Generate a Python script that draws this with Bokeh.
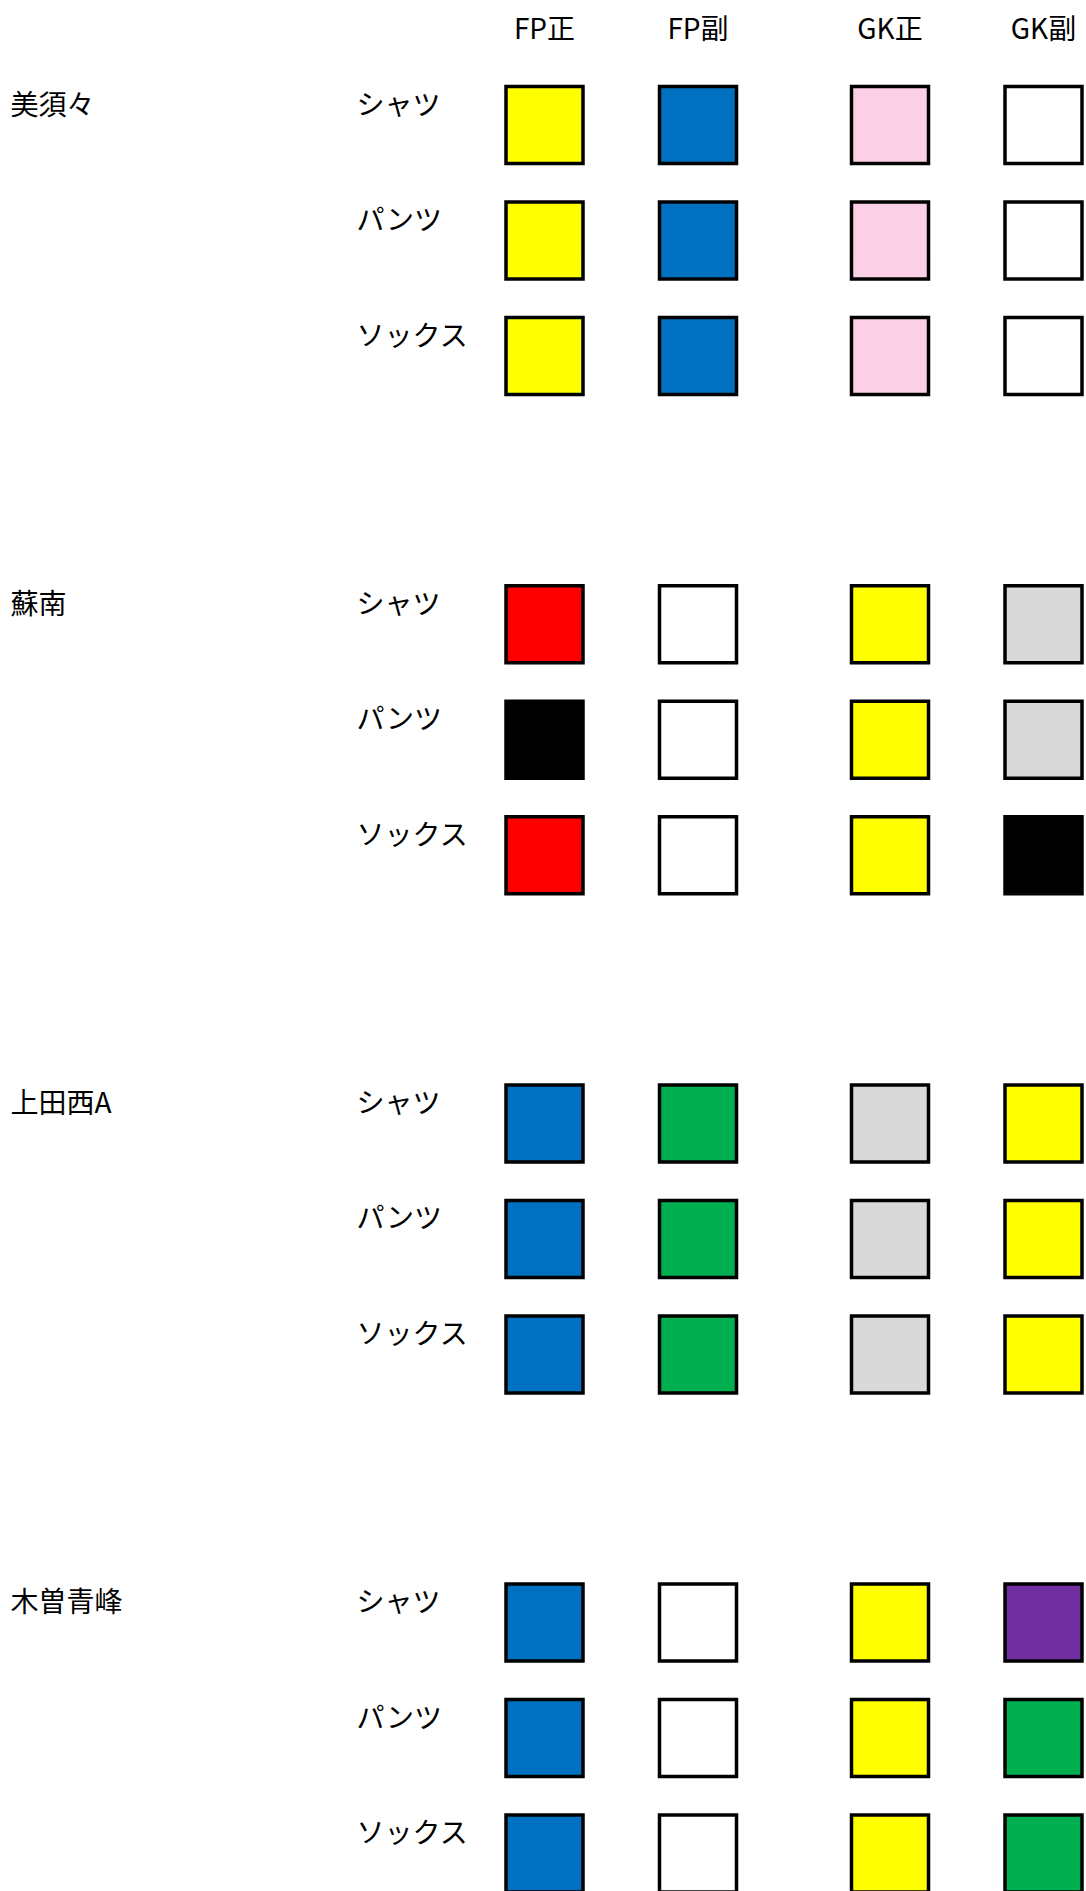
from bokeh.plotting import figure
from bokeh.models import Range1d, ColumnDataSource
from bokeh.core.properties import value
from bokeh.embed import file_html
from bokeh.resources import INLINE

# ---- data ----
teams = ["美須々", "蘇南", "上田西A", "木曽青峰"]
items = ["シャツ", "パンツ", "ソックス"]
kits = ["FP正", "FP副", "GK正", "GK副"]

YELLOW = "#FFFF00"
BLUE = "#0070C0"
PINK = "#FBD0E7"
WHITE = "#FFFFFF"
RED = "#FF0000"
BLACK = "#000000"
GRAY = "#D9D9D9"
GREEN = "#00B050"
PURPLE = "#7030A0"

misuzu = [
    [YELLOW, BLUE, PINK, WHITE],
    [YELLOW, BLUE, PINK, WHITE],
    [YELLOW, BLUE, PINK, WHITE],
]
sonan = [
    [RED, WHITE, YELLOW, GRAY],
    [BLACK, WHITE, YELLOW, GRAY],
    [RED, WHITE, YELLOW, BLACK],
]
uedanishi_a = [
    [BLUE, GREEN, GRAY, YELLOW],
    [BLUE, GREEN, GRAY, YELLOW],
    [BLUE, GREEN, GRAY, YELLOW],
]
kiso_seiho = [
    [BLUE, WHITE, YELLOW, PURPLE],
    [BLUE, WHITE, YELLOW, GREEN],
    [BLUE, WHITE, YELLOW, GREEN],
]
team_colors = [misuzu, sonan, uedanishi_a, kiso_seiho]

# ---- layout (sheet-like grid) ----
CELL = 77
TEAM_PITCH = 499.2
ROW_PITCH = 115.5
FIRST_ROW_TOP = 86
KIT_X0 = 544
KIT_PITCH = 153.5
GROUP_GAP = 38.5
TEAM_LABEL_X = 10
ITEM_LABEL_X = 356
LABEL_OFFSET = 16
HEADER_Y = 26


def kit_x(i):
    return KIT_X0 + KIT_PITCH * i + (GROUP_GAP if i >= 2 else 0)


def row_top(t, r):
    return FIRST_ROW_TOP + TEAM_PITCH * t + ROW_PITCH * r


xs, ys, fills = [], [], []
for t, grid in enumerate(team_colors):
    for r, row in enumerate(grid):
        for k, c in enumerate(row):
            xs.append(kit_x(k))
            ys.append(row_top(t, r) + CELL / 2)
            fills.append(c)
cells = ColumnDataSource(dict(x=xs, y=ys, fill=fills))

W, H = 1086, 1891
p = figure(width=W, height=H, output_backend="svg", toolbar_location=None,
           x_range=Range1d(0, W), y_range=Range1d(H, 0),
           min_border=0, x_axis_location=None, y_axis_location=None,
           tools="")
p.grid.visible = False
p.outline_line_color = None
p.background_fill_color = "white"

p.rect(x="x", y="y", width=CELL, height=CELL, source=cells,
       fill_color="fill", line_color="black", line_width=3.5,
       line_join="miter")

font = value("Noto Sans CJK JP")

# headers
p.text(x=[kit_x(k) for k in range(len(kits))], y=[HEADER_Y] * len(kits), text=kits,
       text_font=font, text_font_size="28px", text_align="center",
       text_baseline="middle", text_color="black")

# team labels
p.text(x=[TEAM_LABEL_X] * len(teams),
       y=[row_top(t, 0) + LABEL_OFFSET for t in range(len(teams))], text=teams,
       text_font=font, text_font_size="28px", text_align="left",
       text_baseline="middle", text_color="black")

# item labels
il_x, il_y, il_t = [], [], []
for t in range(len(teams)):
    for r, it in enumerate(items):
        il_x.append(ITEM_LABEL_X)
        il_y.append(row_top(t, r) + LABEL_OFFSET)
        il_t.append(it)
p.text(x=il_x, y=il_y, text=il_t, text_font=font, text_font_size="28px",
       text_align="left", text_baseline="middle", text_color="black")

open("out.html", "w").write(file_html(p, INLINE))
